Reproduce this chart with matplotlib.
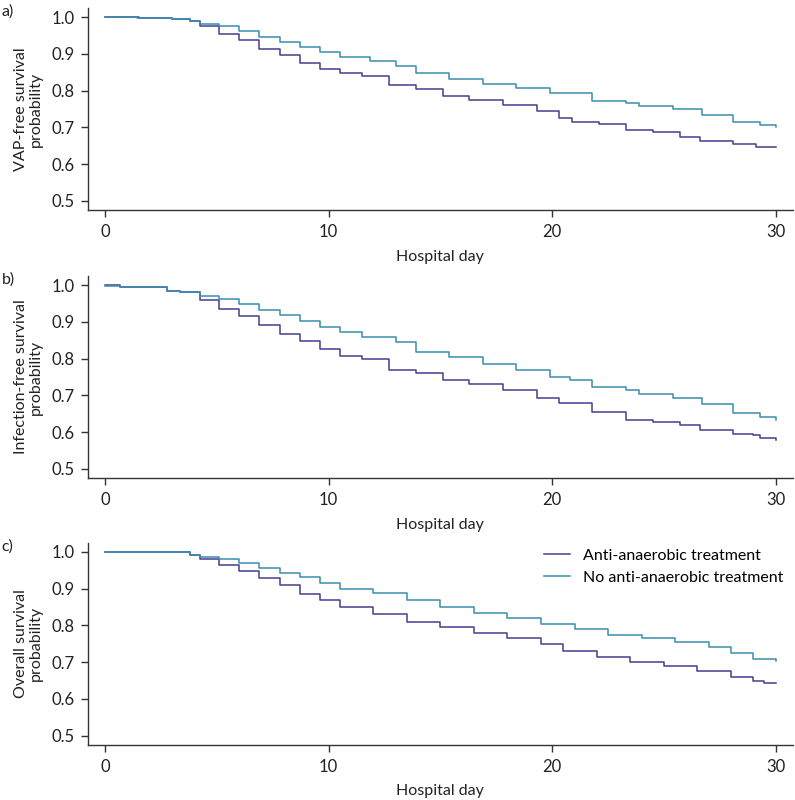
import matplotlib
matplotlib.use("Agg")
import matplotlib.pyplot as plt

plt.rcParams["font.family"] = ["Lato", "DejaVu Sans"]

# panel a) VAP-free survival
a_anti_t = [0, 1.5, 3.0, 3.8, 4.25, 5.1, 6.0, 6.9, 7.8, 8.7, 9.6, 10.5, 11.5, 12.7, 13.9,
            15.1, 16.3, 17.8, 19.3, 20.3, 20.9, 22.1, 23.3, 24.5, 25.7, 26.6, 28.1, 29.1, 30]
a_anti_s = [1.0, 0.997, 0.995, 0.99, 0.976, 0.954, 0.9375, 0.912, 0.897, 0.874, 0.86, 0.849,
            0.84, 0.815, 0.803, 0.785, 0.774, 0.761, 0.745, 0.725, 0.716, 0.709, 0.693, 0.687,
            0.675, 0.664, 0.655, 0.648, 0.648]
a_no_t = [0, 1.4, 3.0, 3.8, 4.25, 5.1, 6.0, 6.9, 7.8, 8.7, 9.6, 10.5, 11.85, 13.0, 13.9, 15.4,
          16.9, 18.4, 19.9, 21.8, 23.3, 23.9, 25.4, 26.7, 28.1, 29.3, 30]
a_no_s = [1.0, 0.997, 0.995, 0.99, 0.981, 0.976, 0.963, 0.945, 0.931, 0.918, 0.905, 0.892,
          0.881, 0.867, 0.847, 0.831, 0.817, 0.806, 0.793, 0.773, 0.767, 0.758, 0.749, 0.734,
          0.716, 0.707, 0.702]

# panel b) infection-free survival
b_anti_t = [0, 0.67, 2.76, 3.35, 4.25, 5.1, 6.0, 6.9, 7.8, 8.7, 9.6, 10.5, 11.5, 12.7, 13.9,
            15.1, 16.3, 17.8, 19.3, 20.3, 21.8, 23.3, 24.5, 25.7, 26.6, 28.1, 29.0, 29.3, 30]
b_anti_s = [1.0, 0.994, 0.985, 0.982, 0.96, 0.935, 0.915, 0.89, 0.868, 0.847, 0.827, 0.807,
            0.799, 0.769, 0.76, 0.742, 0.732, 0.715, 0.694, 0.678, 0.655, 0.634, 0.628, 0.619,
            0.605, 0.596, 0.592, 0.583, 0.578]
b_no_t = [0, 0.67, 2.76, 3.35, 4.25, 5.1, 6.0, 6.9, 7.8, 8.7, 9.6, 10.5, 11.5, 13.0, 13.9, 15.4,
          16.9, 18.4, 19.9, 20.8, 21.8, 23.3, 23.9, 25.4, 26.7, 28.1, 29.3, 30]
b_no_s = [0.997, 0.994, 0.985, 0.982, 0.971, 0.962, 0.949, 0.933, 0.919, 0.901, 0.886, 0.872,
          0.858, 0.844, 0.817, 0.804, 0.784, 0.769, 0.751, 0.741, 0.722, 0.715, 0.703, 0.694,
          0.676, 0.652, 0.64, 0.634]

# panel c) overall survival
c_anti_t = [0, 3.8, 4.25, 5.1, 6.0, 6.9, 7.8, 8.7, 9.6, 10.5, 12.0, 13.5, 15.0, 16.5, 18.0,
            19.5, 20.5, 22.0, 23.5, 25.0, 26.5, 28.0, 29.0, 29.5, 30]
c_anti_s = [1.0, 0.992, 0.981, 0.963, 0.949, 0.929, 0.911, 0.884, 0.87, 0.85, 0.83, 0.81,
            0.795, 0.78, 0.765, 0.75, 0.73, 0.715, 0.70, 0.69, 0.675, 0.66, 0.65, 0.643, 0.643]
c_no_t = [0, 3.8, 4.25, 5.1, 6.0, 6.9, 7.8, 8.7, 9.6, 10.5, 12.0, 13.5, 15.0, 16.5, 18.0, 19.5,
          21.0, 22.5, 24.0, 25.5, 27.0, 28.0, 29.0, 30]
c_no_s = [1.0, 0.992, 0.987, 0.981, 0.969, 0.956, 0.942, 0.931, 0.915, 0.9, 0.888, 0.87, 0.85,
          0.835, 0.82, 0.805, 0.79, 0.775, 0.765, 0.755, 0.74, 0.725, 0.71, 0.703]

panels = [
    ("a)", "VAP-free survival\nprobability", a_anti_t, a_anti_s, a_no_t, a_no_s),
    ("b)", "Infection-free survival\nprobability", b_anti_t, b_anti_s, b_no_t, b_no_s),
    ("c)", "Overall survival\nprobability", c_anti_t, c_anti_s, c_no_t, c_no_s),
]

purple = "#4b3b8f"
teal = "#3a8db0"
bottoms = [0.7375, 0.4025, 0.069]

fig = plt.figure(figsize=(7.95, 8.0), dpi=100)

for i, (tag, ylab, t1, s1, t2, s2) in enumerate(panels):
    ax = fig.add_axes([0.111, bottoms[i], 0.886, 0.2525])
    ax.step(t1, s1, where="post", color=purple, lw=1.1, label="Anti-anaerobic treatment")
    ax.step(t2, s2, where="post", color=teal, lw=1.1, label="No anti-anaerobic treatment")
    ax.set_xlim(-0.76, 30.76)
    ax.set_ylim(0.4755, 1.0245)
    ax.set_xticks([0, 10, 20, 30])
    ax.set_yticks([0.5, 0.6, 0.7, 0.8, 0.9, 1.0])
    ax.set_yticklabels(["0.5", "0.6", "0.7", "0.8", "0.9", "1.0"])
    for side in ["top", "right"]:
        ax.spines[side].set_visible(False)
    for side in ["left", "bottom"]:
        ax.spines[side].set_color("#333333")
        ax.spines[side].set_linewidth(1.0)
    ax.tick_params(direction="out", length=5, width=1.0, color="#333333",
                   labelsize=12, labelcolor="#222222", pad=5)
    ax.set_xlabel("Hospital day", fontsize=11.5, color="#222222", labelpad=7)
    ax.set_ylabel(ylab, fontsize=11.5, color="#222222", labelpad=6, linespacing=1.1)
    fig.text(0.002, bottoms[i] + 0.2525 + 0.004, tag, fontsize=11.5, color="#222222",
             ha="left", va="top")
    if i == 2:
        ax.legend(loc="upper right", frameon=False, fontsize=11.5, handlelength=1.6,
                  handletextpad=0.8, borderaxespad=0.2, labelspacing=0.5,
                  bbox_to_anchor=(1.0, 1.02))

fig.savefig("out.png", dpi=100)
